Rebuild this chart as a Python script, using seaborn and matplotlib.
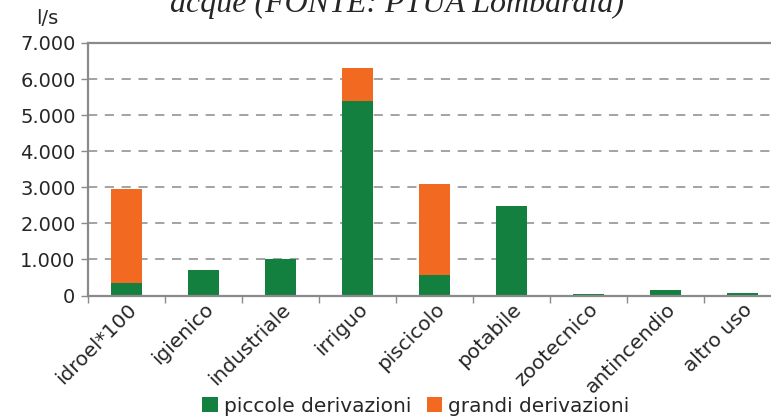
import matplotlib
matplotlib.use("Agg")
import matplotlib.pyplot as plt
from matplotlib.patches import Patch
from matplotlib.ticker import FuncFormatter, MultipleLocator, FixedLocator
import seaborn as sns
import numpy as np

# Portate derivate per uso (l/s)
categorie = ["idroel*100", "igienico", "industriale", "irriguo", "piscicolo",
             "potabile", "zootecnico", "antincendio", "altro uso"]
piccole = [360, 700, 1000, 5390, 560, 2470, 30, 145, 75]
grandi = [2590, 0, 0, 920, 2520, 0, 0, 0, 0]

verde = "#138040"
arancio = "#F26A22"
grigio = "#8a8a8a"

sns.set_style("white")
plt.rcParams["font.family"] = ["DejaVu Sans"]

W, H = 771, 416
fig = plt.figure(figsize=(W / 100, H / 100), dpi=100)
left, right_x, top_y, bottom_y = 88, 781, 43, 295.5
ax = fig.add_axes([left / W, 1 - bottom_y / H, (right_x - left) / W, (bottom_y - top_y) / H])

sns.barplot(x=categorie, y=piccole, color=verde, width=0.4, saturation=1,
            linewidth=0, ax=ax)
pos = np.arange(len(categorie))
ax.bar(pos, grandi, bottom=piccole, width=0.4, color=arancio, linewidth=0)

ax.set_xlim(-0.5, len(categorie) - 0.5)
ax.set_ylim(0, 7000)
ax.yaxis.set_major_locator(MultipleLocator(1000))
ax.yaxis.set_major_formatter(FuncFormatter(lambda v, p: f"{int(v):,}".replace(",", ".")))

# dashed horizontal grid
for v in range(1000, 7000, 1000):
    ax.axhline(v, color=grigio, lw=1.1, ls=(0, (6, 5)), zorder=0)

for s in ["left", "bottom", "top"]:
    ax.spines[s].set_color(grigio)
    ax.spines[s].set_linewidth(1.6)
ax.spines["right"].set_visible(False)

ax.tick_params(axis="y", which="major", direction="out", length=5, width=1,
               color=grigio, labelsize=14, pad=4, left=True)
ax.set_xticks(pos)
ax.set_xticklabels(categorie, rotation=45, ha="right", rotation_mode="anchor",
                   fontsize=14.5)
ax.tick_params(axis="x", which="major", length=0, pad=3)
ax.xaxis.set_minor_locator(FixedLocator(np.arange(-0.5, len(categorie) - 0.5, 1.0)))
ax.tick_params(axis="x", which="minor", direction="out", length=5, width=1,
               color=grigio, bottom=True)
ax.set_xlabel("")
ax.set_ylabel("")

fig.text(47 / W, 1 - 18 / H, "l/s", ha="center", va="center", fontsize=14)

fig.text(397 / W, 1 - 12 / H, "acque (FONTE: PTUA Lombardia)", ha="center",
         va="baseline", fontsize=23, style="italic", family="Liberation Serif")

handles = [Patch(facecolor=verde, edgecolor="none"),
           Patch(facecolor=arancio, edgecolor="none")]
fig.legend(handles, ["piccole derivazioni", "grandi derivazioni"], loc="center",
           bbox_to_anchor=(416 / W, 1 - 406 / H), ncol=2, frameon=False,
           fontsize=14.5, handlelength=0.75, handleheight=0.75,
           handletextpad=0.3, columnspacing=0.8, borderpad=0)

fig.savefig("out.png", dpi=100)
